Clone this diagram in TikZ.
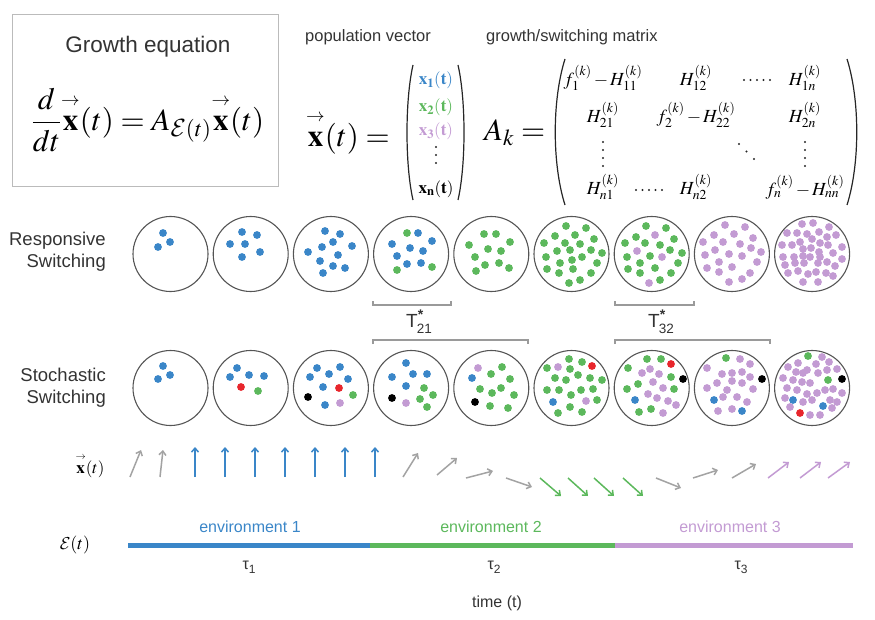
\documentclass[tikz,border=0pt]{standalone}
\usepackage{amsmath}
\usepackage{mathptmx}
\usepackage{fontspec}
\setmainfont{Liberation Serif}
\setsansfont{Liberation Sans}
\DeclareMathAlphabet{\mathcal}{OMS}{cmsy}{m}{n}
\usetikzlibrary{arrows.meta}
\definecolor{cblue}{HTML}{3A86C8}
\definecolor{cgreen}{HTML}{5CB85C}
\definecolor{cpurp}{HTML}{C39BD3}
\definecolor{cred}{HTML}{E8262C}
\definecolor{cgray}{HTML}{A3A3A3}
\definecolor{ctext}{HTML}{333333}
\definecolor{cedge}{HTML}{555555}
\definecolor{cbox}{HTML}{BBBBBB}
\definecolor{cbrk}{HTML}{9A9A9A}
\newcommand\dts[2]{\foreach \x/\y in {#2} \fill[#1] (\x,\y) circle (3.9);}
\newcommand\edots[1]{\foreach \x/\y in {#1} \fill[black!85] (\x,\y) circle (1.05);}
\newcommand\vx{\overset{\raisebox{0.12em}{$\scriptscriptstyle\rightarrow$}}{\mathbf{x}}}
\begin{document}
\begin{tikzpicture}[x=1pt,y=-1pt,
  sans/.style={font=\sffamily\fontsize{#1}{#1}\selectfont, text=ctext, inner sep=0},
  rowlbl/.style={font=\sffamily\fontsize{18.5}{22}\selectfont, text=ctext, align=right, inner sep=0, anchor=east},
  ment/.style={font=\fontsize{18.5}{22}\selectfont, inner sep=0},
  vent/.style={font=\fontsize{17}{20}\selectfont, inner sep=0},
  pline/.style={line width=1.2, draw=black!85},
  circ/.style={draw=cedge, line width=1.1},
  brk/.style={draw=cbrk, line width=1.1},
  vec/.style={line width=1.5, -{Straight Barb[length=4pt,width=7pt]}},
  envbar/.style={line width=5, line cap=butt}]
\useasboundingbox (0,0) rectangle (875,620);

% ---------- growth equation box ----------
\draw[draw=cbox, line width=1] (12,15) rectangle (278,187);
\node[sans=22.5] (geqt) at (148,47) {Growth equation};
\node[inner sep=0, font=\fontsize{31}{36}\selectfont] (geq) at (148,120)
  {$\displaystyle\frac{d}{dt}\vx(t)=A_{\mathcal{E}(t)}\vx(t)$};

% ---------- population vector ----------
\node[sans=16.5, anchor=west] (popl) at (305,37) {population vector};
\node[inner sep=0, anchor=west, font=\fontsize{31}{36}\selectfont] (xeq) at (306,133)
  {$\vx(t)=$};
\draw[pline] (413,65) .. controls (405,100) and (405,165) .. (413,200);
\draw[pline] (458,65) .. controls (466,100) and (466,165) .. (458,200);
\node[vent, text=cblue] (v1) at (436,80) {$\mathbf{x_1(t)}$};
\node[vent, text=cgreen] (v2) at (436,107) {$\mathbf{x_2(t)}$};
\node[vent, text=cpurp] (v3) at (436,131) {$\mathbf{x_3(t)}$};
\edots{436/147,436/155,436/163}
\node[vent] (v5) at (436,189) {$\mathbf{x_n(t)}$};

% ---------- matrix ----------
\node[sans=16.5, anchor=west] (matl) at (486,37) {growth/switching matrix};
\node[inner sep=0, anchor=west, font=\fontsize{31}{36}\selectfont] (akeq) at (484,133) {$A_k=$};
\draw[pline] (565,59) .. controls (552,100) and (552,164) .. (565,205);
\draw[pline] (847,59) .. controls (860,100) and (860,164) .. (847,205);
\node[ment] (m11) at (603,78) {$f_1^{(k)}\,{-}\,H_{11}^{(k)}$};
\node[ment] (m12) at (696,78) {$H_{12}^{(k)}$};
\edots{744/80,750.5/80,757/80,763.5/80,770/80}
\node[ment] (m1n) at (805,78) {$H_{1n}^{(k)}$};
\node[ment] (m21) at (603,115) {$H_{21}^{(k)}$};
\node[ment] (m22) at (696,115) {$f_2^{(k)}\,{-}\,H_{22}^{(k)}$};
\node[ment] (m2n) at (805,115) {$H_{2n}^{(k)}$};
\edots{603/142,603/150,603/158,603/166}
\edots{739/144,746.5/151.5,754/159}
\edots{805/142,805/150,805/158,805/166}
\node[ment] (mn1) at (603,187) {$H_{n1}^{(k)}$};
\edots{636/190,642.5/190,649/190,655.5/190,662/190}
\node[ment] (mn2) at (696,187) {$H_{n2}^{(k)}$};
\node[ment] (mnn) at (805,187) {$f_n^{(k)}\,{-}\,H_{nn}^{(k)}$};

% ---------- row labels ----------
\node[rowlbl] (resp) at (106,252) {Responsive\\Switching};
\node[rowlbl] (stoch) at (106,388) {Stochastic\\Switching};

% ---------- circles ----------
\foreach \i in {0,...,8} {
  \draw[circ] ({170.5+80.2*\i},254) circle (37.5);
  \draw[circ] ({170.5+80.2*\i},388) circle (37.5);
}

% row 1 dots
\dts{cblue}{163/233,158/247,170/242}
\dts{cblue}{242/232,257/235,230/244,245/244,260/252,242/257}
\dts{cblue}{325/231,340/234,333/242,322/247,352/246,308/252,338/255,320/261,333/266,345/268,323/273}
\dts{cgreen}{407/233,397/270,432/267}
\dts{cblue}{418/233,432/241,392/244,410/248,423/251,397/256,407/264,421/263}
\dts{cgreen}{484/234,496/234,469/245,510/242,488/249,501/251,475/257,485/265,499/263,509/268,476/271}
\dts{cgreen}{566/226,586/228,555/236,575/235,594/239,565/243,580/244,544/243,557/251,570/250,591/250,602/253,546/257,582/257,560/263,572/260,597/263,547/269,559/273,573/269,591/273,569/283,580/280}
\dts{cgreen}{646/226,666/228,636/237,625/243,645/243,660/245,674/239,670/250,682/253,627/257,650/256,640/263,678/263,628/269,655/268,640/273,671/273,660/280}
\dts{cpurp}{655/235,637/251,662/257,649/283}
\dts{cpurp}{725/225,745/227,714/235,734/234,753/238,703/242,723/242,740/244,715/250,729/254,751/248,761/252,705/255,742/256,719/262,757/262,707/268,732/267,719/272,750/273,729/282,742/279}
\dts{cpurp}{802/224,813/223,829/227,787/233,797/233,807/234,819/232,827/237,836/235,782/245,792/245,800/242,812/239,820/243,828/245,842/247,803/249,811/248,819/252,833/253,783/257,794/257,803/256,810/257,820/257,842/259,785/265,795/263,804/263,818/263,827/262,835/266,788/273,798/271,808/274,816/272,826/273,833/276,803/282,818/282}

% row 2 dots
\dts{cblue}{163/366,158/379,170/375}
\dts{cblue}{237/368,230/377,249/375,264/376}
\dts{cred}{241/387}
\dts{cgreen}{258/391}
\dts{cblue}{317/368,340/367,310/377,329/374,348/379,323/387,325/405}
\dts{cred}{339/388}
\dts{cgreen}{353/395}
\dts{black}{308/397}
\dts{cpurp}{340/403}
\dts{cblue}{406/363,392/377,413/374,427/374,406/386}
\dts{cgreen}{424/388,433/395,420/399,427/407}
\dts{black}{392/398}
\dts{cpurp}{406/403}
\dts{cpurp}{478/368}
\dts{cblue}{472/378}
\dts{cgreen}{502/367,491/374,510/379,480/389,492/393,501/388,514/395,490/406,508/408}
\dts{black}{475/402}
\dts{cgreen}{569/359,582/362,547/368,570/369,555/378,566/380,578/375,590/378,602/380,547/390,559/390,571/395,581/390,593/389,597/400,558/413,570/407,582/412}
\dts{cpurp}{558/367,586/401}
\dts{cred}{592/366}
\dts{cblue}{553/402}
\dts{cgreen}{647/359,661/359,628/368,671/377,638/384,627/389,674/389,639/412,651/409}
\dts{cred}{671/364}
\dts{black}{683/379}
\dts{cpurp}{642/373,650/369,659/374,653/382,663/388,648/394,657/398,668/401,676/405,663/413}
\dts{cblue}{635/400}
\dts{cgreen}{726/358}
\dts{cpurp}{707/368,740/359,750/364,722/374,732/373,742/372,750/377,717/383,732/381,742/383,707/388,727/390,753/389,723/397,737/397,747/402,718/411,732/409}
\dts{black}{762/379}
\dts{cblue}{714/400,742/411}
\dts{cgreen}{808/356,828/380}
\dts{black}{842/379}
\dts{cblue}{793/400,823/406}
\dts{cred}{800/413}
\dts{cpurp}{788/367,798/363,807/370,816/364,822/357,829/362,837/369,827/370,783/378,793/380,803/373,810/383,818/373,802/382,787/388,797/390,807/394,817/393,825/390,833/389,842/393,785/398,803/402,812/400,830/400,837/402,790/407,810/415,820/415,832/408,796/372}

% ---------- brackets and T labels ----------
\draw[brk] (373,301) -- (373,305) -- (451,305) -- (451,301);
\draw[brk] (373,344) -- (373,340) -- (528,340) -- (528,344);
\draw[brk] (615,301) -- (615,305) -- (694,305) -- (694,301);
\draw[brk] (615,344) -- (615,340) -- (770,340) -- (770,344);
\node[sans=19] (t21) at (419,322) {T\rlap{\raisebox{8pt}{\fontsize{14}{14}\selectfont\bfseries *}}\kern-1pt\raisebox{-6pt}{\fontsize{13.5}{14}\selectfont 21}};
\node[sans=19] (t32) at (661,322) {T\rlap{\raisebox{8pt}{\fontsize{14}{14}\selectfont\bfseries *}}\kern-1pt\raisebox{-6pt}{\fontsize{13.5}{14}\selectfont 32}};

% ---------- x(t) arrows ----------
\node[inner sep=0, font=\fontsize{17}{20}\selectfont] (xlbl) at (90,466) {$\vx(t)$};
\draw[vec, cgray] (130,477) -- (141,450);
\draw[vec, cgray] (160,477) -- (163,450);
\foreach \x in {195,225,255,285,315,345,375} \draw[vec, cblue] (\x,477) -- (\x,447);
\draw[vec, cgray] (403,477) -- (418,453);
\draw[vec, cgray] (437,475) -- (457,458);
\draw[vec, cgray] (466,478) -- (493,471);
\draw[vec, cgray] (506,478) -- (532,487);
\draw[vec, cgreen] (540,478) -- (561,496);
\draw[vec, cgreen] (568,478) -- (588,496);
\draw[vec, cgreen] (594,478) -- (614,496);
\draw[vec, cgreen] (623,478) -- (643,496);
\draw[vec, cgray] (656,478) -- (681,488);
\draw[vec, cgray] (693,478) -- (718,470);
\draw[vec, cgray] (732,478) -- (756,464);
\draw[vec, cpurp] (768,478) -- (789,462);
\draw[vec, cpurp] (800,478) -- (821,462);
\draw[vec, cpurp] (828,478) -- (850,462);

% ---------- environment bar ----------
\node[inner sep=0, font=\fontsize{18}{20}\selectfont] (elbl) at (75,545) {$\mathcal{E}(t)$};
\draw[envbar, cblue] (128,545) -- (370,545);
\draw[envbar, cgreen] (370,545) -- (615,545);
\draw[envbar, cpurp] (615,545) -- (853,545);
\node[sans=16, text=cblue] (env1) at (250,527) {environment 1};
\node[sans=16, text=cgreen] (env2) at (491,527) {environment 2};
\node[sans=16, text=cpurp] (env3) at (730,527) {environment 3};
\node[sans=16] (tau1) at (249,567) {τ\raisebox{-4pt}{\fontsize{12}{12}\selectfont 1}};
\node[sans=16] (tau2) at (494,567) {τ\raisebox{-4pt}{\fontsize{12}{12}\selectfont 2}};
\node[sans=16] (tau3) at (741,567) {τ\raisebox{-4pt}{\fontsize{12}{12}\selectfont 3}};
\node[sans=16] (timel) at (497,603) {time (t)};
\end{tikzpicture}
\end{document}
